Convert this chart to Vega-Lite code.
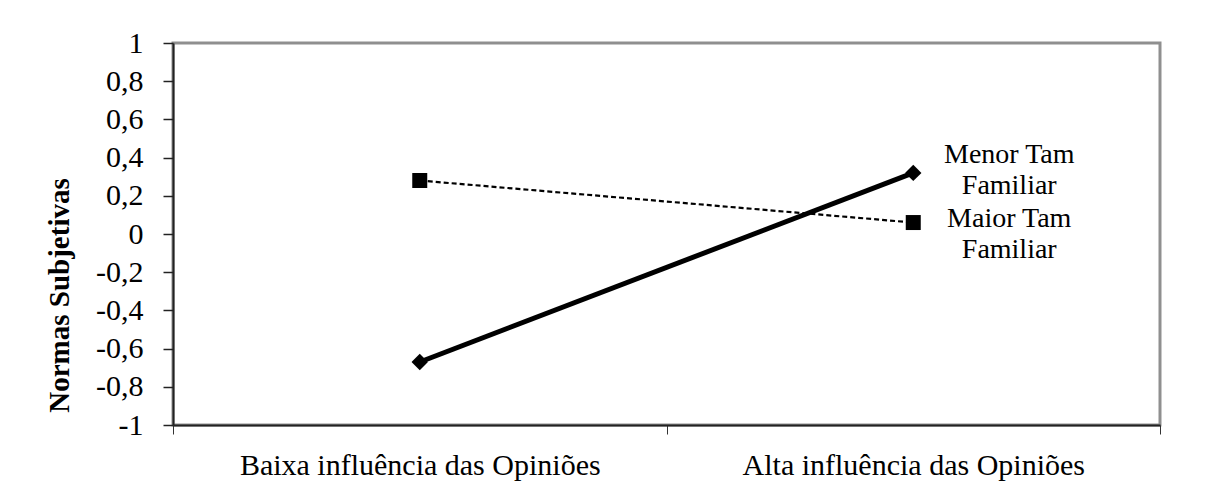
{
  "$schema": "https://vega.github.io/schema/vega-lite/v6.json",
  "width": 987,
  "height": 382,
  "autosize": {"type": "none"},
  "padding": {"left": 173, "top": 43, "right": 51, "bottom": 68},
  "background": "white",
  "config": {
    "view": {"stroke": "#8f8f8f", "strokeWidth": 3},
    "font": "Liberation Serif"
  },
  "datasets": {
    "series": [
      {"cond": "Baixa influência das Opiniões", "grupo": "Menor Tam Familiar", "valor": -0.67},
      {"cond": "Alta influência das Opiniões", "grupo": "Menor Tam Familiar", "valor": 0.32},
      {"cond": "Baixa influência das Opiniões", "grupo": "Maior Tam Familiar", "valor": 0.28},
      {"cond": "Alta influência das Opiniões", "grupo": "Maior Tam Familiar", "valor": 0.06}
    ],
    "labels": [
      {"cond": "Alta influência das Opiniões", "texto": "Menor Tam\nFamiliar", "valor": 0.37},
      {"cond": "Alta influência das Opiniões", "texto": "Maior Tam\nFamiliar", "valor": 0.035}
    ]
  },
  "encoding": {
    "x": {
      "field": "cond",
      "type": "nominal",
      "sort": ["Baixa influência das Opiniões", "Alta influência das Opiniões"],
      "scale": {"paddingInner": 0, "paddingOuter": 0},
      "axis": {
        "title": null,
        "tickBand": "extent",
        "labelAngle": 0,
        "labelLimit": 0,
        "labelFont": "Liberation Serif",
        "labelFontSize": 30,
        "labelColor": "black",
        "labelPadding": 16,
        "tickSize": 9,
        "tickColor": "#333",
        "tickWidth": 1,
        "domainColor": "#222",
        "domainWidth": 2,
        "grid": false
      }
    },
    "y": {
      "field": "valor",
      "type": "quantitative",
      "scale": {"domain": [-1, 1], "nice": false, "zero": false},
      "axis": {
        "title": "Normas Subjetivas",
        "titleFont": "Liberation Serif",
        "titleFontSize": 29,
        "titleFontWeight": "bold",
        "titleColor": "black",
        "titleAngle": 270,
        "titleAlign": "center",
        "titleBaseline": "alphabetic",
        "titleX": -105,
        "titleY": 252,
        "values": [-1, -0.8, -0.6, -0.4, -0.2, 0, 0.2, 0.4, 0.6, 0.8, 1],
        "labelExpr": "replace(replace(format(datum.value, '~g'), '.', ','), '\u2212', '-')",
        "labelFont": "Liberation Serif",
        "labelFontSize": 30,
        "labelColor": "black",
        "labelPadding": 20,
        "tickSize": 10,
        "tickColor": "#222",
        "tickWidth": 1.5,
        "domainColor": "#222",
        "domainWidth": 2,
        "grid": false
      }
    }
  },
  "layer": [
    {
      "data": {"name": "series"},
      "transform": [{"filter": "datum.grupo === 'Maior Tam Familiar'"}],
      "mark": {"type": "line", "color": "black", "strokeWidth": 2.2, "strokeDash": [5, 3]},
      "encoding": {}
    },
    {
      "data": {"name": "series"},
      "transform": [{"filter": "datum.grupo === 'Menor Tam Familiar'"}],
      "mark": {"type": "line", "color": "black", "strokeWidth": 5},
      "encoding": {}
    },
    {
      "data": {"name": "series"},
      "transform": [{"filter": "datum.grupo === 'Maior Tam Familiar'"}],
      "mark": {"type": "point", "shape": "square", "filled": true, "color": "black", "opacity": 1, "size": 225},
      "encoding": {}
    },
    {
      "data": {"name": "series"},
      "transform": [{"filter": "datum.grupo === 'Menor Tam Familiar'"}],
      "mark": {"type": "point", "shape": "diamond", "filled": true, "color": "black", "opacity": 1, "size": 270},
      "encoding": {}
    },
    {
      "data": {"name": "labels"},
      "mark": {"type": "text", "align": "center", "baseline": "alphabetic", "dx": 96, "lineBreak": "\n", "lineHeight": 31, "font": "Liberation Serif", "fontSize": 28, "color": "black"},
      "encoding": {"text": {"field": "texto"}}
    }
  ]
}
